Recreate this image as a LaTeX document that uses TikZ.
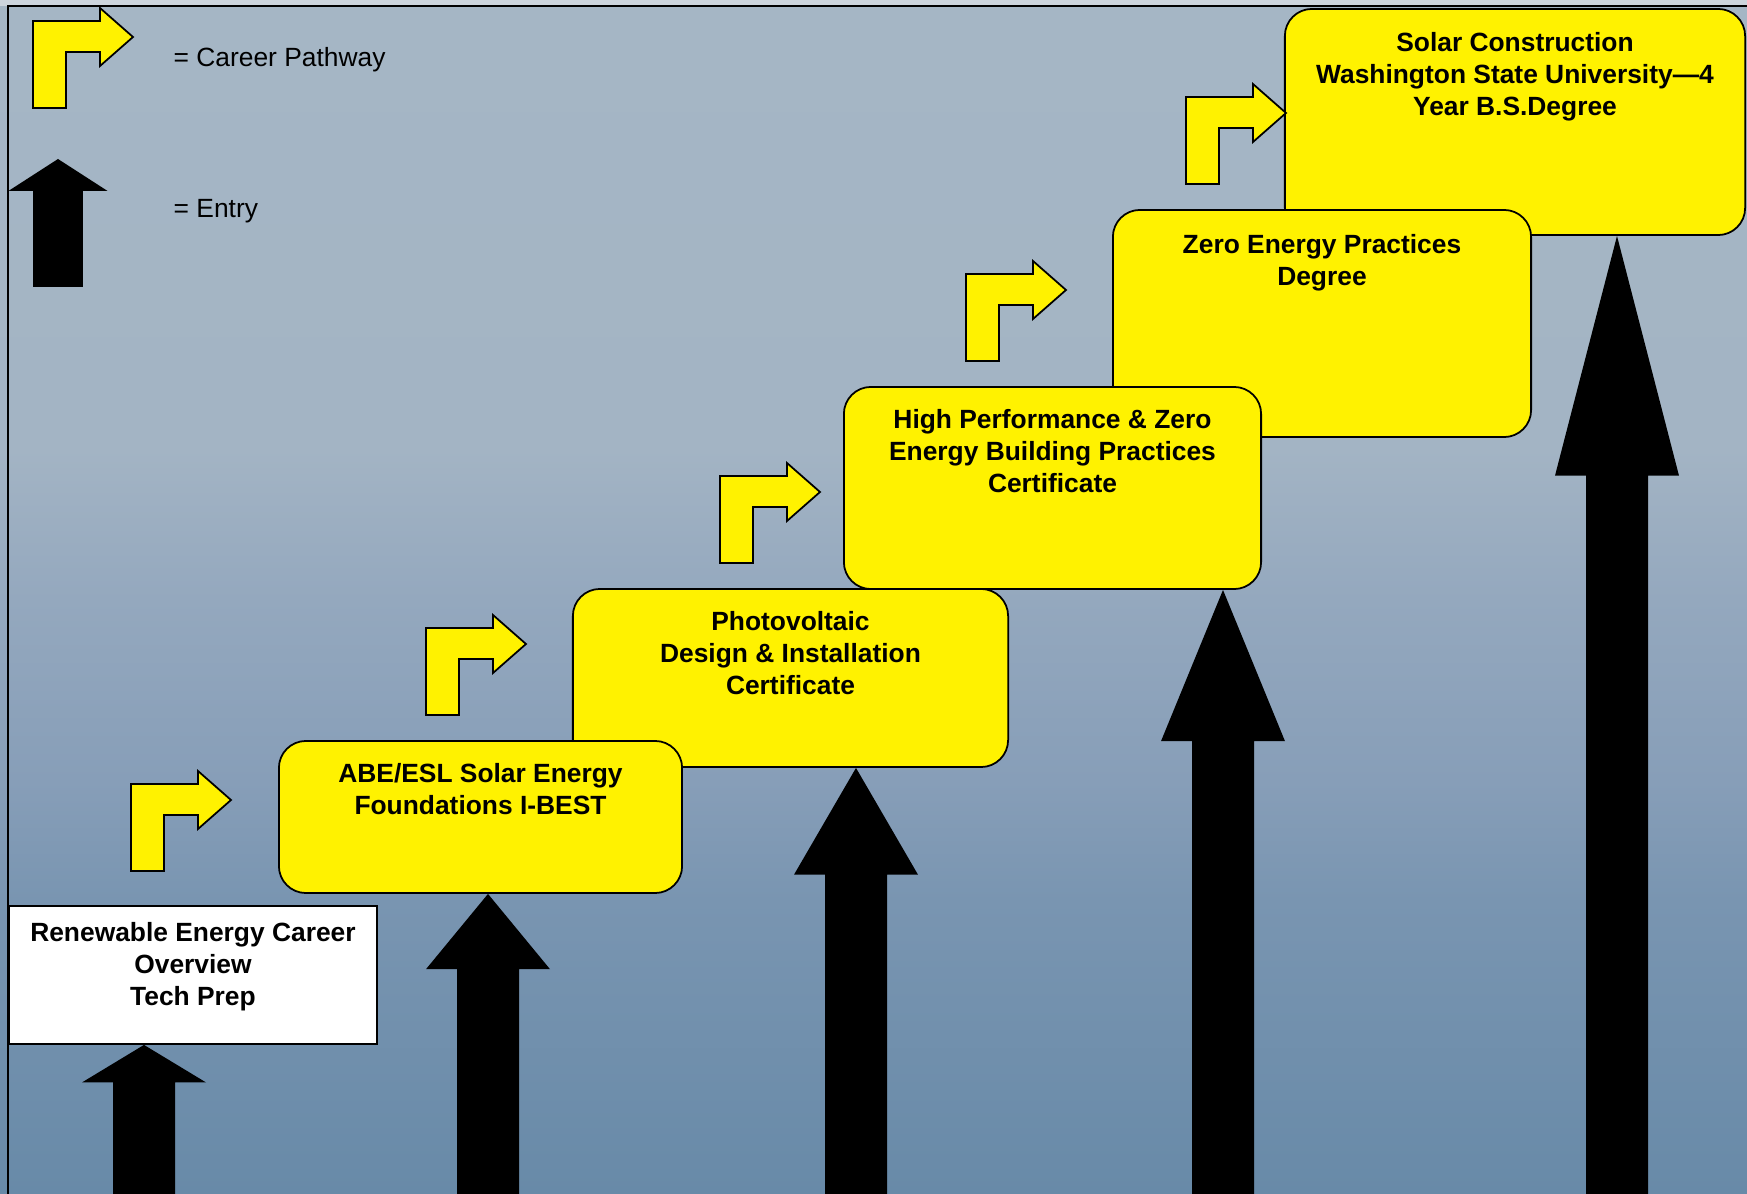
\documentclass[tikz,border=0pt]{standalone}
\usepackage{fontspec}
\setmainfont{Liberation Sans}
\usetikzlibrary{positioning}

\definecolor{skyA}{RGB}{165,182,197}
\definecolor{skyB}{RGB}{163,180,196}
\definecolor{skyC}{RGB}{148,168,190}
\definecolor{skyD}{RGB}{135,158,184}
\definecolor{skyE}{RGB}{121,149,177}
\definecolor{skyF}{RGB}{104,138,168}
\definecolor{rimcol}{RGB}{205,213,221}

\pgfdeclareverticalshading{skyfade}{100bp}{color(0bp)=(skyF); color(25bp)=(skyF);
  color(37.3bp)=(skyE); color(42.3bp)=(skyD); color(49.9bp)=(skyC);
  color(56.2bp)=(skyB); color(75bp)=(skyA); color(100bp)=(skyA)}

% black up arrow: tip, length, size factor
\newcommand{\entryup}[3]{%
  \fill[entry] (#1) -- ++({62*#3},{0.25*#2}) -- ++({-31*#3},0) -- ++(0,{0.75*#2})
    -- ++({-62*#3},0) -- ++(0,{-0.75*#2}) -- ++({-31*#3},0) -- cycle;}
% yellow bent arrow from the bottom left corner of its stem
\newcommand{\pathway}[1]{%
  \filldraw[turn] (#1) -- ++(0,-87) -- ++(67,0) -- ++(0,-13) -- ++(33,29)
    -- ++(-33,29) -- ++(0,-14) -- ++(-34,0) -- ++(0,56) -- cycle;}

\begin{document}
\begin{tikzpicture}[x=0.01cm, y=-0.01cm,
  stepbox/.style={draw, fill=yellow, rounded corners=0.27cm, line width=0.5pt, inner sep=0pt},
  startbox/.style={draw, fill=white, line width=0.5pt, inner sep=0pt},
  steptext/.style={font=\fontsize{7.5}{9}\selectfont\bfseries, align=center, inner sep=0pt},
  legendtext/.style={font=\fontsize{7.5}{9}\selectfont, anchor=base west, inner sep=0pt},
  entry/.style={fill=black},
  turn/.style={draw, fill=yellow, line width=0.5pt, line join=miter}]
  \useasboundingbox (0,0) rectangle (1747,1194);
  \shade[shading=skyfade] (0,0) rectangle (1747,1194);
  \fill[rimcol] (0,0) rectangle (1747,6);
  \draw[line width=0.6pt] (8,1194) -- (8,6) -- (1747,6);

  \node[stepbox, minimum width=4.60cm, minimum height=2.26cm] (solar) at (1515,122) {};
  \node[stepbox, minimum width=4.18cm, minimum height=2.27cm] (zero) at (1322,323.5) {};
  \node[stepbox, minimum width=4.17cm, minimum height=2.02cm] (perf) at (1052.5,488) {};
  \node[stepbox, minimum width=4.35cm, minimum height=1.78cm] (pv) at (790.5,678) {};
  \node[stepbox, minimum width=4.03cm, minimum height=1.52cm] (abe) at (480.5,817) {};
  \node[startbox, minimum width=3.68cm, minimum height=1.38cm] (intro) at (193,975) {};

  \node[steptext, below=0.24cm of solar.north] (solartxt)
    {Solar Construction\\Washington State University—4\\Year B.S.Degree};
  \node[steptext, below=0.25cm of zero.north] (zerotxt) {Zero Energy Practices\\Degree};
  \node[steptext, below=0.23cm of perf.north] (perftxt)
    {High Performance \& Zero\\Energy Building Practices\\Certificate};
  \node[steptext, below=0.23cm of pv.north] (pvtxt)
    {Photovoltaic\\Design \& Installation\\Certificate};
  \node[steptext, below=0.23cm of abe.north] (abetxt) {ABE/ESL Solar Energy\\Foundations I-BEST};
  \node[steptext, below=0.17cm of intro.north] (introtxt)
    {Renewable Energy Career\\Overview\\Tech Prep};

  \node[legendtext] (pathkey) at (173,67) {= Career Pathway};
  \node[legendtext] (entrykey) at (173,218) {= Entry};

  \coordinate (p0) at (33,108);
  \coordinate (p1) at (131,871);
  \coordinate (p2) at (426,715);
  \coordinate (p3) at (720,563);
  \coordinate (p4) at (966,361);
  \coordinate (p5) at (1186,184);
  \foreach \p in {p0,p1,p2,p3,p4,p5}
    \pathway{\p};

  \coordinate (e0) at (58,159);
  \coordinate (e1) at (144,0);
  \coordinate (e2) at (488,0);
  \coordinate (e3) at (856,0);
  \coordinate (e4) at (1223,0);
  \coordinate (e5) at (1617,0);
  \entryup{e0}{128}{0.8}
  \entryup{e1 |- intro.south}{150}{1}
  \entryup{e2 |- abe.south}{301}{1}
  \entryup{e3 |- pv.south}{427}{1}
  \entryup{e4 |- perf.south}{605}{1}
  \entryup{e5 |- solar.south}{959}{1}
\end{tikzpicture}
\end{document}
